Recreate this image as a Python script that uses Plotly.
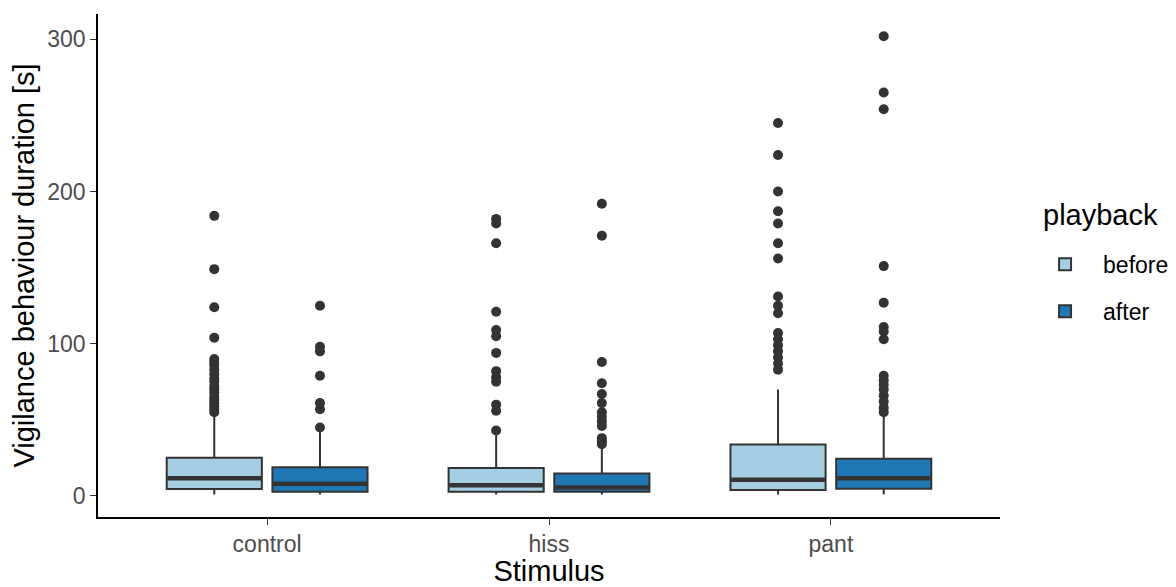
import plotly.graph_objects as go

# ---------------- data ----------------
categories = ["control", "hiss", "pant"]
groups = ["before", "after"]

before_q1 = [4.6, 2.8, 3.9]
before_median = [11.6, 7.0, 10.7]
before_q3 = [25.2, 18.4, 33.9]
before_lower = [1.0, 1.0, 1.0]
before_upper = [54.0, 41.0, 70.0]

after_q1 = [2.8, 2.8, 4.8]
after_median = [8.1, 5.5, 11.6]
after_q3 = [18.8, 14.7, 24.4]
after_lower = [1.0, 1.0, 1.0]
after_upper = [42.0, 31.0, 52.0]

before_outliers = {
    "control": [184, 149, 124, 104, 90, 88, 86, 83, 80, 77, 75, 72, 70, 68, 65, 63, 61, 59, 57, 55],
    "hiss": [182, 179, 166, 121, 109, 105, 94, 82, 78, 75, 60, 56, 43],
    "pant": [245, 224, 200, 187, 179, 166, 156, 131, 125, 120, 107, 103, 99, 95, 91, 87, 83],
}
after_outliers = {
    "control": [125, 98, 95, 79, 61, 57, 45],
    "hiss": [192, 171, 88, 74, 67, 61, 55, 52, 49, 46, 38, 36, 34],
    "pant": [302, 265, 254, 151, 127, 111, 108, 103, 79, 76, 73, 70, 66, 62, 58, 55],
}

y_ticks = [0, 100, 200, 300]

# ---------------- style ----------------
colors = {"before": "#A6CEE3", "after": "#1F78B4"}
line_col = "#333333"
dodge = 0.1875
box_w = 0.3375
font_family = "Liberation Sans, Arial, sans-serif"

stats = {
    "before": (before_q1, before_median, before_q3, before_lower, before_upper, before_outliers, -dodge),
    "after": (after_q1, after_median, after_q3, after_lower, after_upper, after_outliers, dodge),
}

fig = go.Figure()
pos = list(range(1, len(categories) + 1))

for g in groups:
    q1, med, q3, lo, hi, outs, off = stats[g]
    xs = [p + off for p in pos]
    ox, oy = [], []
    for p, c in zip(pos, categories):
        for v in outs[c]:
            ox.append(p + off)
            oy.append(v)
    fig.add_trace(go.Scatter(
        x=ox, y=oy, mode="markers", showlegend=False, hoverinfo="y",
        marker=dict(color=line_col, size=10, line=dict(width=0)),
    ))
    fig.add_trace(go.Box(
        name=g, x=xs, q1=q1, median=med, q3=q3, lowerfence=lo, upperfence=hi,
        width=box_w, whiskerwidth=0, fillcolor=colors[g],
        line=dict(color=line_col, width=2), boxpoints=False,
        legendgroup=g, showlegend=True,
    ))
    fig.add_trace(go.Box(
        x=xs, q1=med, median=med, q3=med, lowerfence=med, upperfence=med,
        width=box_w * 0.985, whiskerwidth=0, fillcolor=line_col,
        line=dict(color=line_col, width=4.5), boxpoints=False,
        showlegend=False, hoverinfo="skip",
    ))

fig.add_annotation(
    text="playback", xref="paper", yref="paper", x=1.046, y=0.600,
    xanchor="left", yanchor="middle", showarrow=False,
    font=dict(size=29, color="#000000"),
)

# page body adds an 8px offset; the figure is sized to fill the rest of the window
fig.update_layout(
    width=1168, height=579,
    margin=dict(l=90, r=176, t=6, b=70, autoexpand=False),
    paper_bgcolor="white", plot_bgcolor="white",
    boxmode="overlay",
    font=dict(family=font_family, size=23, color="#000000"),
    legend=dict(
        font=dict(size=23, color="#000000"),
        x=1.03, xanchor="left", y=0.545, yanchor="top",
        tracegroupgap=14, itemwidth=66, bgcolor="rgba(0,0,0,0)",
    ),
    xaxis=dict(
        range=[0.4, 3.6], tickmode="array", tickvals=pos, ticktext=categories,
        showline=True, linecolor="#000000", linewidth=1.5,
        ticks="outside", ticklen=6, tickwidth=1.3, tickcolor=line_col,
        tickfont=dict(size=23, color="#4D4D4D"),
        showgrid=False, zeroline=False, automargin=False,
        title=dict(text="Stimulus", font=dict(size=29, color="#000000"), standoff=6),
    ),
    yaxis=dict(
        range=[-13.8, 316.6], tickmode="array", tickvals=y_ticks,
        showline=True, linecolor="#000000", linewidth=1.5,
        ticks="outside", ticklen=6, tickwidth=1.3, tickcolor=line_col,
        tickfont=dict(size=23, color="#4D4D4D"),
        showgrid=False, zeroline=False, automargin=False,
        title=dict(text="Vigilance behaviour duration [s]", font=dict(size=29, color="#000000"), standoff=6),
    ),
)

fig.write_html("out.html")
